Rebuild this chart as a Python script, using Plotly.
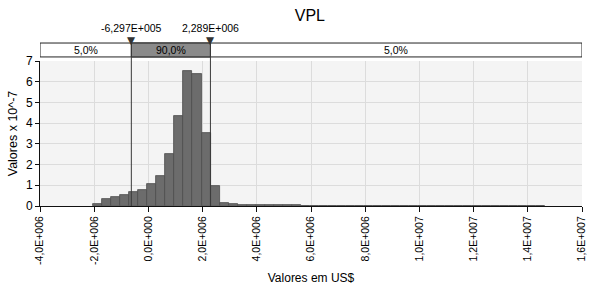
import plotly.graph_objects as go

# ---- data ----
bin_start = -2.04e6
bin_width = 0.3333e6
heights = [0.08, 0.32, 0.43, 0.53, 0.66, 0.76, 1.05, 1.47, 2.51, 4.33,
           6.52, 6.39, 3.53, 0.95, 0.15, 0.08,
           0.05, 0.04, 0.04, 0.04, 0.04, 0.03, 0.03,
           0.015, 0.012, 0.012, 0.01, 0.01, 0.01, 0.009, 0.009, 0.008, 0.008,
           0.008, 0.007, 0.007, 0.007, 0.006, 0.006, 0.006, 0.006, 0.005,
           0.005, 0.005, 0.005, 0.005, 0.004, 0.004, 0.004, 0.004]
p_low = -6.297e5
p_high = 2.289e6
p_low_label = "-6,297E+005"
p_high_label = "2,289E+006"
band_labels = ["5,0%", "90,0%", "5,0%"]
x_min, x_max = -4.0e6, 1.6e7
x_tickvals = [-4e6, -2e6, 0, 2e6, 4e6, 6e6, 8e6, 1e7, 1.2e7, 1.4e7, 1.6e7]
x_ticktext = ["-4,0E+006", "-2,0E+006", "0,0E+000", "2,0E+006", "4,0E+006",
              "6,0E+006", "8,0E+006", "1,0E+007", "1,2E+007", "1,4E+007",
              "1,6E+007"]
y_tickvals = [0, 1, 2, 3, 4, 5, 6, 7]

FONT = "Liberation Sans"

fig = go.Figure()
fig.add_trace(go.Bar(
    x0=bin_start + bin_width / 2, dx=bin_width, y=heights,
    marker=dict(color="#6c6c6c", line=dict(color="#4d4d4d", width=0.8)),
    hoverinfo="skip", showlegend=False,
))

band_y0, band_y1 = 1.028, 1.124
shapes = [
    dict(type="rect", xref="x", yref="paper", x0=x_min, x1=x_max,
         y0=band_y0, y1=band_y1, line=dict(color="#222222", width=1),
         fillcolor="white", layer="above"),
    dict(type="rect", xref="x", yref="paper", x0=p_low, x1=p_high,
         y0=band_y0, y1=band_y1, line=dict(color="#222222", width=1),
         fillcolor="#8a8a8a", layer="above"),
    dict(type="line", xref="x", yref="paper", x0=p_low, x1=p_low,
         y0=0, y1=band_y1, line=dict(color="#3a3a3a", width=1), layer="above"),
    dict(type="line", xref="x", yref="paper", x0=p_high, x1=p_high,
         y0=0, y1=band_y1, line=dict(color="#3a3a3a", width=1), layer="above"),
]

ann_font = dict(family=FONT, size=10.5, color="#000000")
tri_font = dict(family="DejaVu Sans", size=10.5, color="#333333")
annotations = [
    dict(xref="x", yref="paper", x=(x_min + p_low) / 2, y=(band_y0 + band_y1) / 2,
         text=band_labels[0], showarrow=False, font=ann_font, yanchor="middle"),
    dict(xref="x", yref="paper", x=(p_low + p_high) / 2, y=(band_y0 + band_y1) / 2,
         text=band_labels[1], showarrow=False, font=ann_font, yanchor="middle"),
    dict(xref="x", yref="paper", x=(p_high + x_max) / 2, y=(band_y0 + band_y1) / 2,
         text=band_labels[2], showarrow=False, font=ann_font, yanchor="middle"),
    dict(xref="x", yref="paper", x=p_low, y=1.228, text=p_low_label,
         showarrow=False, font=ann_font, yanchor="middle"),
    dict(xref="x", yref="paper", x=p_high, y=1.228, text=p_high_label,
         showarrow=False, font=ann_font, yanchor="middle"),
    dict(xref="x", yref="paper", x=p_low, y=1.145, text="▼",
         showarrow=False, font=tri_font, yanchor="middle", borderpad=0),
    dict(xref="x", yref="paper", x=p_high, y=1.145, text="▼",
         showarrow=False, font=tri_font, yanchor="middle", borderpad=0),
]

fig.update_layout(
    width=604, height=285,
    margin=dict(l=40, r=22, t=61, b=79, autoexpand=False),
    paper_bgcolor="white", plot_bgcolor="#f4f4f4",
    bargap=0,
    font=dict(family=FONT, size=11, color="#000000"),
    title=dict(text="VPL", x=0.513, xanchor="center", y=0.945, yanchor="middle",
               font=dict(family=FONT, size=16, color="#000000"),
               automargin=False),
    shapes=shapes, annotations=annotations,
    xaxis=dict(range=[x_min, x_max], tickvals=x_tickvals, ticktext=x_ticktext,
               tickangle=-90, ticks="outside", ticklen=5, tickcolor="#111111",
               showline=True, linecolor="#111111", linewidth=1,
               showgrid=True, gridcolor="#dcdcdc", gridwidth=1, zeroline=False,
               automargin=False,
               tickfont=dict(family=FONT, size=10.5),
               title=dict(text="Valores em US$", standoff=10,
                          font=dict(family=FONT, size=12))),
    yaxis=dict(range=[0, 7], tickvals=y_tickvals, ticks="outside", ticklen=4,
               tickcolor="#111111", showline=True, linecolor="#111111",
               linewidth=1, showgrid=True, gridcolor="#dcdcdc", zeroline=False,
               automargin=False,
               tickfont=dict(family=FONT, size=12),
               title=dict(text="Valores x 10^-7", standoff=5,
                          font=dict(family=FONT, size=12.5))),
)

fig.write_html("out.html")
